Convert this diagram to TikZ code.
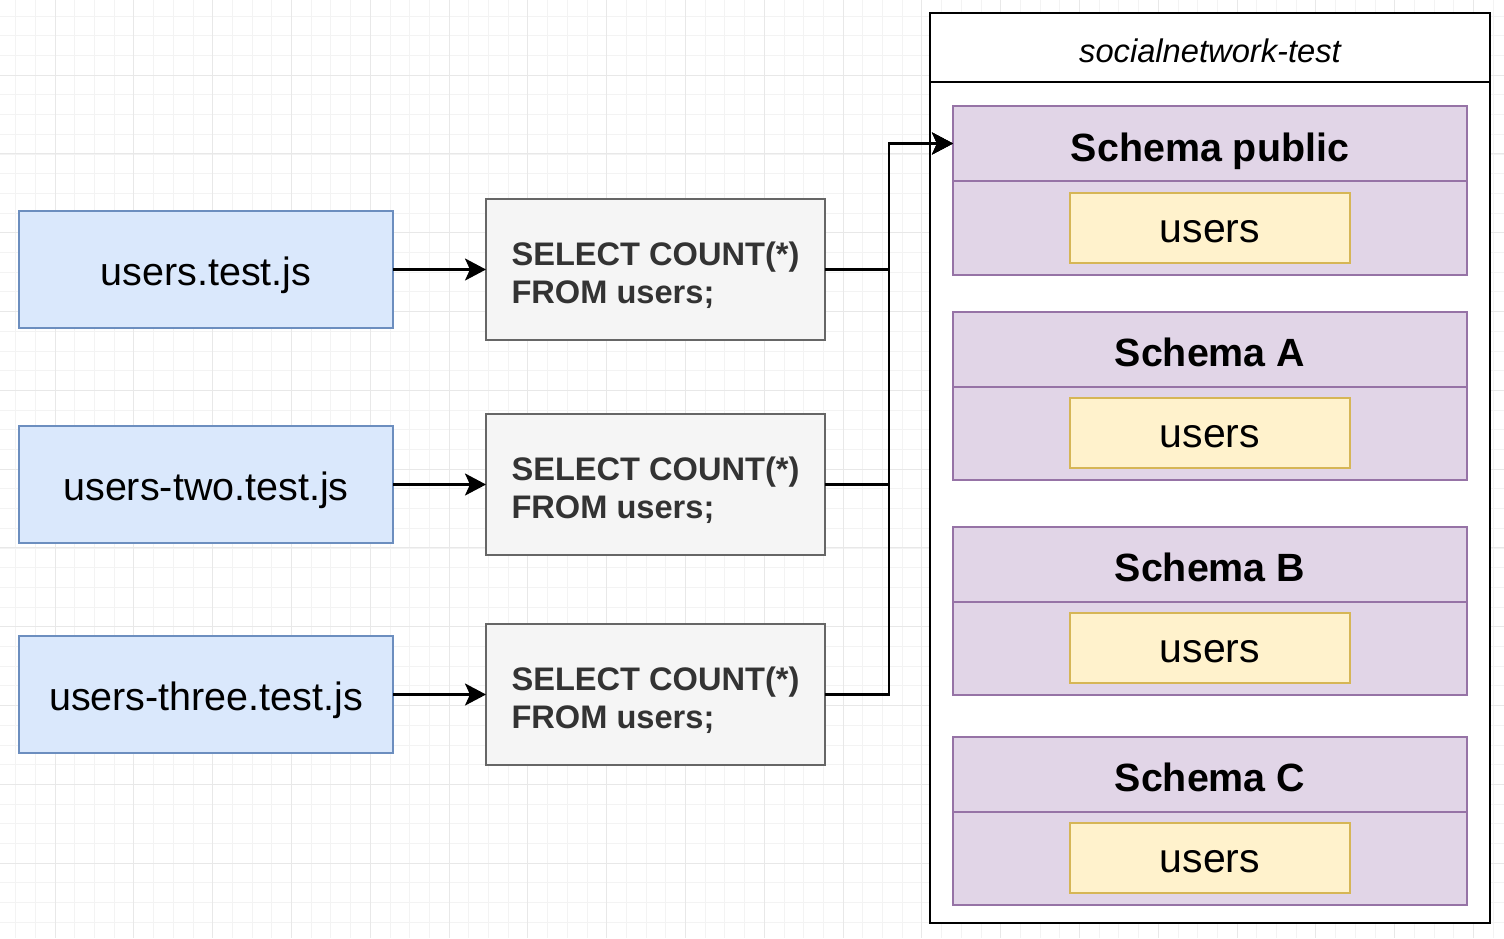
\documentclass[tikz,border=0pt]{standalone}
\usepackage{fontspec}
\setmainfont{Liberation Sans}
\usetikzlibrary{positioning, arrows.meta}
\definecolor{testfill}{HTML}{DAE8FC}
\definecolor{testline}{HTML}{6C8EBF}
\definecolor{queryfill}{HTML}{F5F5F5}
\definecolor{queryline}{HTML}{666666}
\definecolor{querytext}{HTML}{333333}
\definecolor{schemafill}{HTML}{E1D5E7}
\definecolor{schemaline}{HTML}{9673A6}
\definecolor{tablefill}{HTML}{FFF2CC}
\definecolor{tableline}{HTML}{D6B656}
\definecolor{gridminor}{HTML}{F3F3F3}
\definecolor{gridmajor}{HTML}{E8E8E8}
\tikzset {
    >={Stealth[length=21pt, width=22pt, inset=5pt]},
    node distance=93pt,
    every node/.style={inner sep=0pt, outer sep=0pt},
    testfile/.style={draw=testline, fill=testfill, line width=2pt,
        minimum width=374pt, minimum height=117pt,
        text height=31pt, text depth=0pt,
        font=\fontsize{39.5}{47}\selectfont},
    query/.style={draw=queryline, fill=queryfill, line width=2.2pt,
        minimum width=339pt, minimum height=141pt, text=querytext, align=left,
        text height=67pt, text depth=0pt, xshift=2pt,
        font=\fontsize{32.6}{37.5}\selectfont\bfseries},
    dbbox/.style={draw=black, fill=white, line width=2.4pt, minimum width=560pt},
    schemahead/.style={draw=schemaline, fill=schemafill, line width=2pt,
        minimum width=514pt, minimum height=75pt,
        text height=35pt, text depth=0pt,
        font=\fontsize{39.4}{47}\selectfont\bfseries},
    schemabody/.style={draw=schemaline, fill=schemafill, line width=2pt,
        minimum width=514pt, minimum height=93.5pt},
    usertable/.style={draw=tableline, fill=tablefill, line width=2pt,
        minimum width=280pt, minimum height=70pt,
        text height=29pt, text depth=0pt,
        font=\fontsize{41}{49}\selectfont},
    link/.style={->, line width=2.5pt}
}

\begin{document}
\begin{tikzpicture}[x=1pt, y=-1pt]
    \useasboundingbox[fill=white] (0,0) rectangle (1504,938);
    % grid
    \foreach \i in {0,...,76} {
        \draw[gridminor, line width=0.8pt] ({15.6+19.7*\i},0) -- ({15.6+19.7*\i},938);
    }
    \foreach \i in {0,...,47} {
        \draw[gridminor, line width=0.8pt] (0,{16+19.7*\i}) -- (1504,{16+19.7*\i});
    }
    \foreach \i in {0,...,19} {
        \draw[gridmajor, line width=0.8pt] ({55+78.8*\i},0) -- ({55+78.8*\i},938);
    }
    \foreach \i in {0,...,11} {
        \draw[gridmajor, line width=0.8pt] (0,{75+78.8*\i}) -- (1504,{75+78.8*\i});
    }

    % test files and their queries
    \node[testfile] (t1) at (206,269.5) {users.test.js};
    \node[testfile] (t2) at (206,484.5) {users-two.test.js};
    \node[testfile] (t3) at (206,694.5) {users-three.test.js};
    \node[query, right=91pt of t1] (q1) {SELECT COUNT(*)\\FROM users;};
    \node[query, right=91pt of t2] (q2) {SELECT COUNT(*)\\FROM users;};
    \node[query, right=91pt of t3] (q3) {SELECT COUNT(*)\\FROM users;};

    % database
    \node[dbbox, minimum height=910pt] (db) at (1210,468) {};
    \node[dbbox, minimum height=69pt, text height=29pt, text depth=0pt,
        font=\fontsize{32.7}{40}\selectfont\itshape] (dbtitle) at (1210,47.5) {socialnetwork-test};

    \node[schemahead] (pubhead) at (1210,143.5) {Schema public};
    \node[schemabody, below=0pt of pubhead] (pubbody) {};
    \node[usertable] (pubusers) at (pubbody) {users};

    \node[schemahead] (ahead) at (1210,349) {Schema A};
    \node[schemabody, below=0pt of ahead] (abody) {};
    \node[usertable] (ausers) at (abody) {users};

    \node[schemahead] (bhead) at (1210,564) {Schema B};
    \node[schemabody, below=0pt of bhead] (bbody) {};
    \node[usertable] (busers) at (bbody) {users};

    \node[schemahead] (chead) at (1210,774) {Schema C};
    \node[schemabody, below=0pt of chead] (cbody) {};
    \node[usertable] (cusers) at (cbody) {users};

    \coordinate (bus) at (889,143.5);

    \draw[link] (t1) -- (q1);
    \draw[link] (t2) -- (q2);
    \draw[link] (t3) -- (q3);
    \draw[link] (q1.east) -| (bus) -- (pubhead.west);
    \draw[link] (q2.east) -| (bus) -- (pubhead.west);
    \draw[link] (q3.east) -| (bus) -- (pubhead.west);
\end{tikzpicture}
\end{document}
